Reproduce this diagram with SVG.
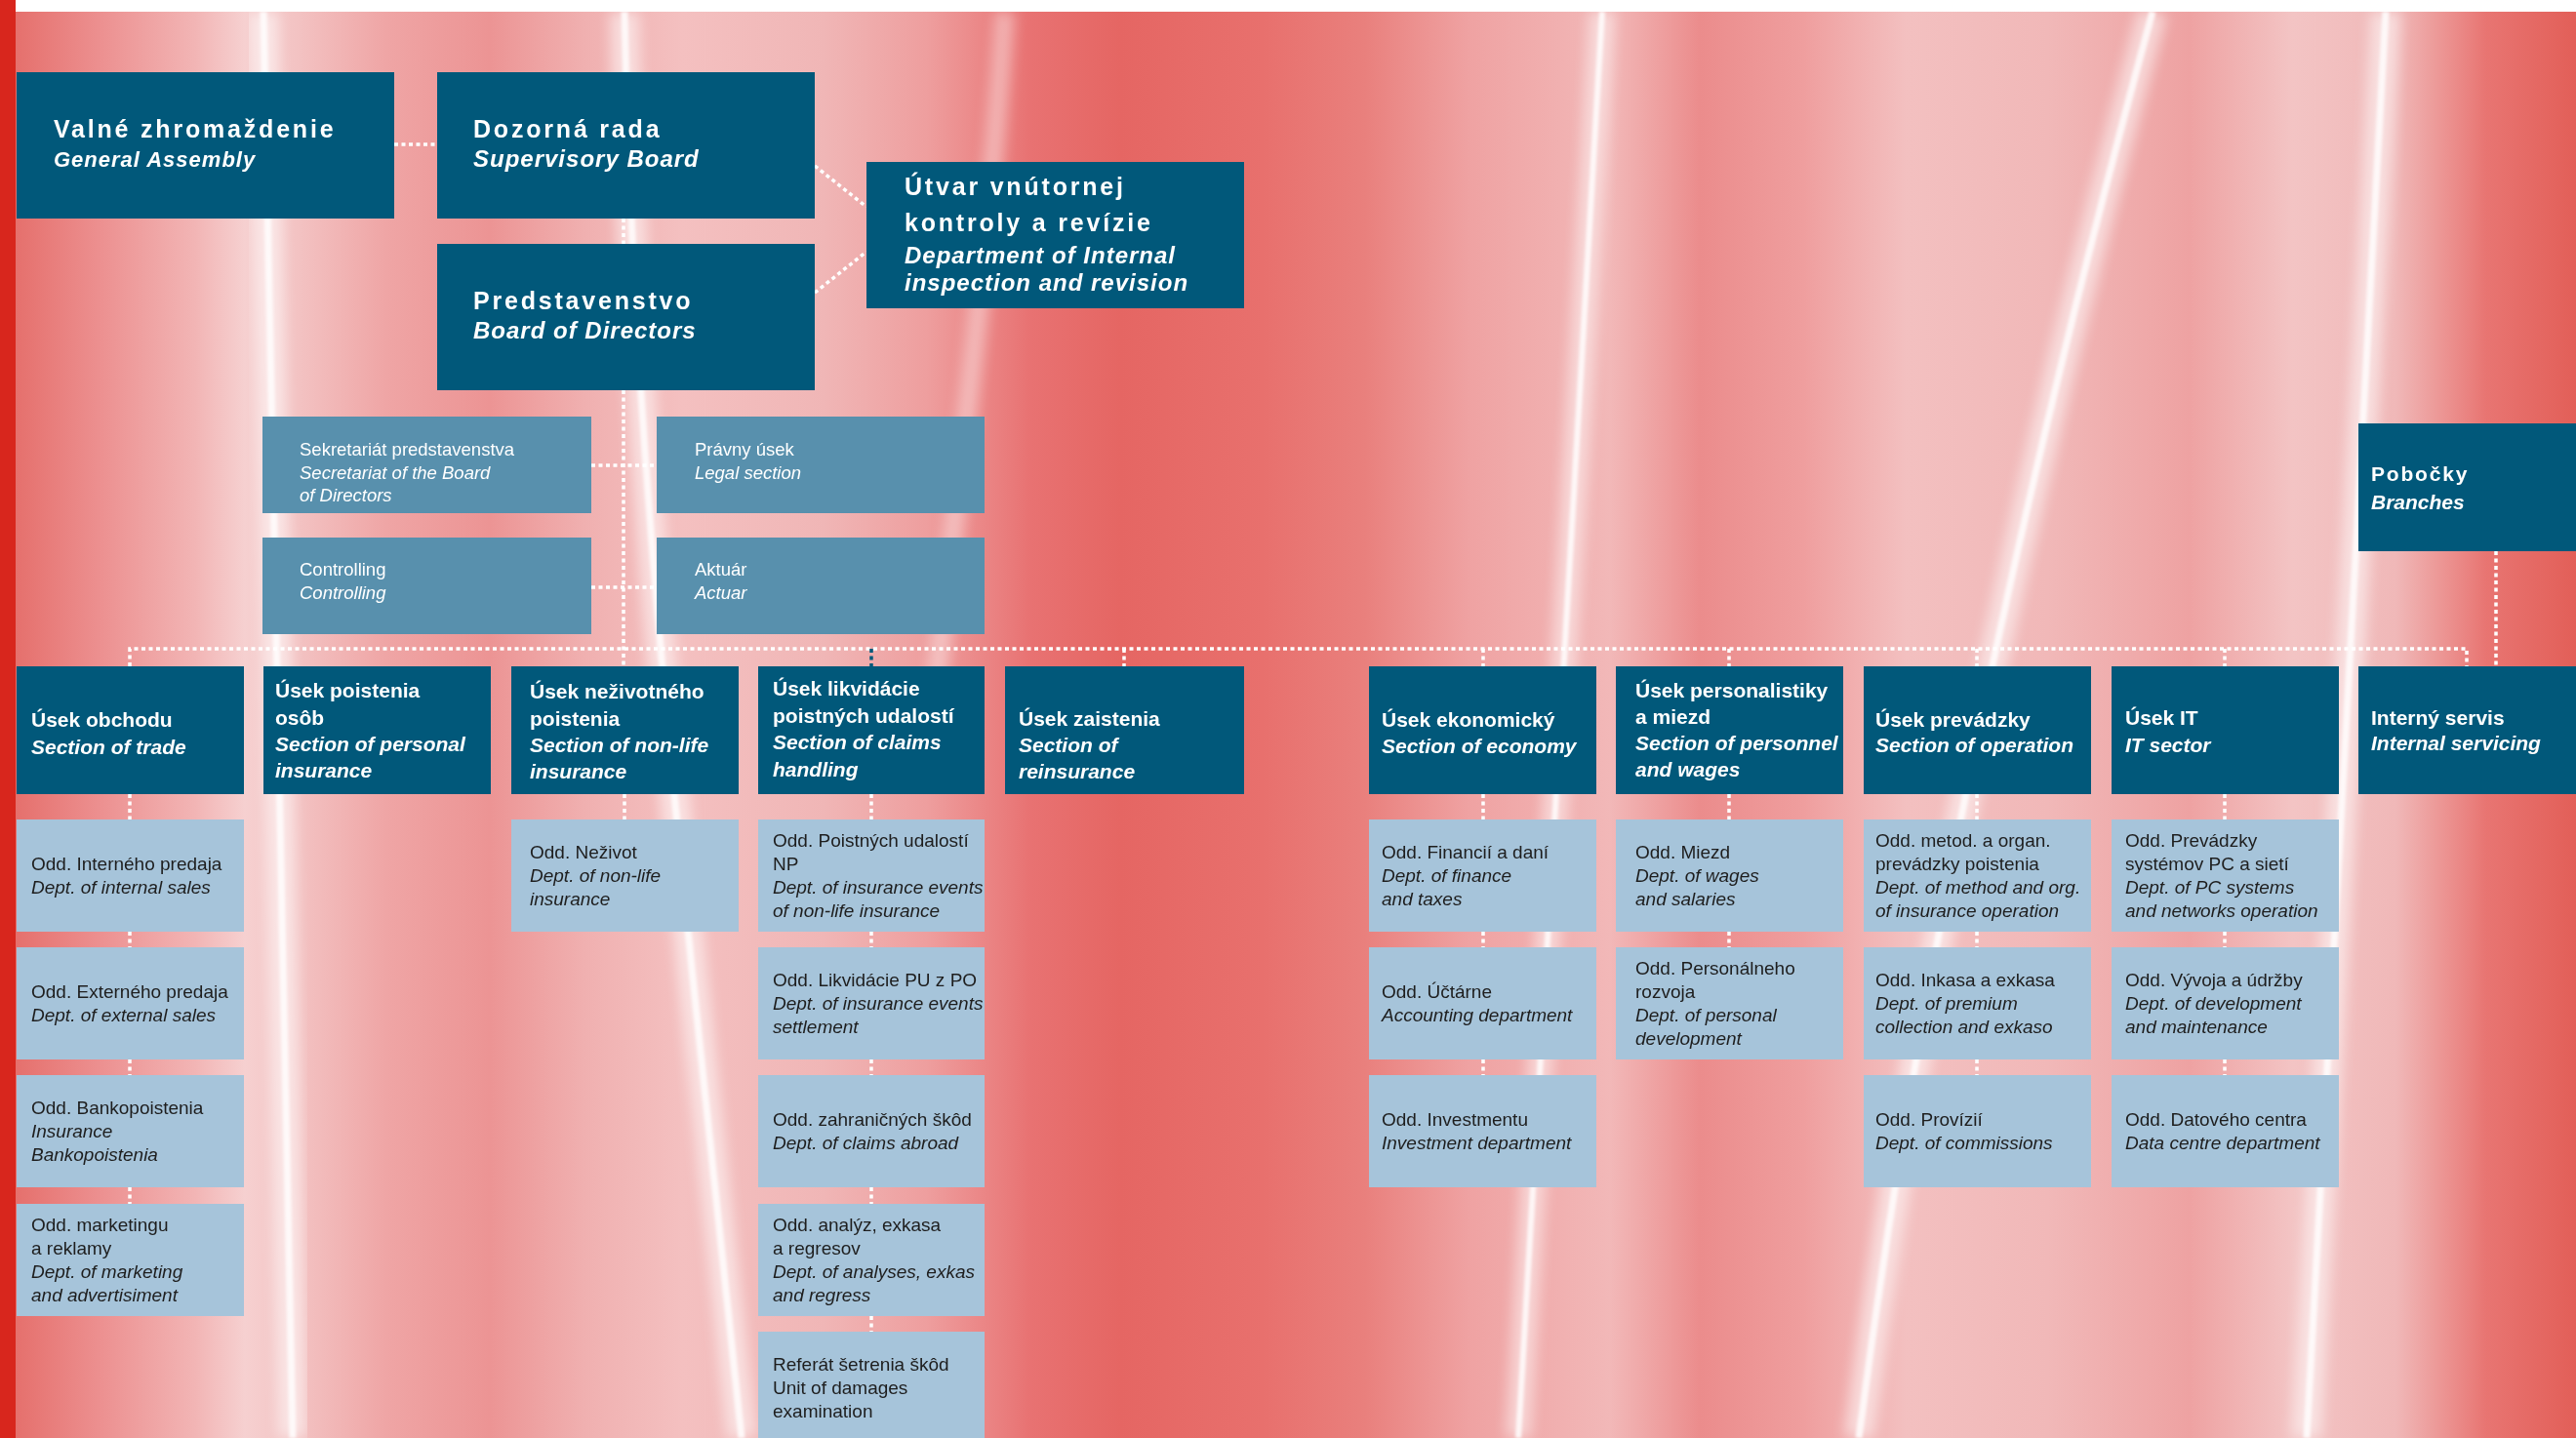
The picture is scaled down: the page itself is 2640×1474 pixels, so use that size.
<svg xmlns="http://www.w3.org/2000/svg" width="2640" height="1474" viewBox="0 0 2640 1474">
<defs>
<linearGradient id="bg" x1="0" y1="0" x2="2640" y2="0" gradientUnits="userSpaceOnUse">
<stop offset="0" stop-color="#e46a66"/>
<stop offset="0.038" stop-color="#ec8f8f"/>
<stop offset="0.076" stop-color="#f2b5b5"/>
<stop offset="0.095" stop-color="#f6d0d0"/>
<stop offset="0.115" stop-color="#f3c3c3"/>
<stop offset="0.15" stop-color="#efa5a5"/>
<stop offset="0.19" stop-color="#ec9494"/>
<stop offset="0.227" stop-color="#f0b0b0"/>
<stop offset="0.265" stop-color="#f4c0c0"/>
<stop offset="0.32" stop-color="#f0b6b6"/>
<stop offset="0.36" stop-color="#ee9e9e"/>
<stop offset="0.40" stop-color="#e87272"/>
<stop offset="0.435" stop-color="#e56663"/>
<stop offset="0.49" stop-color="#e8706d"/>
<stop offset="0.53" stop-color="#e9807d"/>
<stop offset="0.57" stop-color="#efa2a2"/>
<stop offset="0.625" stop-color="#f2b8b8"/>
<stop offset="0.66" stop-color="#eb8c8c"/>
<stop offset="0.70" stop-color="#ef9e9e"/>
<stop offset="0.74" stop-color="#f3c0c0"/>
<stop offset="0.795" stop-color="#f1b8b8"/>
<stop offset="0.85" stop-color="#eea2a2"/>
<stop offset="0.89" stop-color="#f3c4c4"/>
<stop offset="0.93" stop-color="#f0b8b8"/>
<stop offset="0.965" stop-color="#e87572"/>
<stop offset="1" stop-color="#e25f58"/>
</linearGradient>
<filter id="glow" x="-50%" y="-5%" width="200%" height="110%"><feGaussianBlur stdDeviation="7"/></filter>
<filter id="soft" x="-50%" y="-5%" width="200%" height="110%"><feGaussianBlur stdDeviation="1.5"/></filter>
</defs>
<style>
.dark{fill:#01587a}
.mid{fill:#5890ad}
.light{fill:#a6c4da}
text{font-family:"Liberation Sans",Arial,sans-serif}
.hb{font-size:25px;font-weight:bold;fill:#fff;letter-spacing:2.8px}
.hi{font-size:24px;font-weight:bold;font-style:italic;fill:#fff;letter-spacing:1px}
.pb{font-size:21px;font-weight:bold;fill:#fff;letter-spacing:1.8px}
.sb{font-size:21px;font-weight:bold;fill:#fff}
.si{font-size:21px;font-weight:bold;font-style:italic;fill:#fff}
.mr{font-size:18.5px;fill:#fff}
.mi{font-size:18.5px;font-style:italic;fill:#fff}
.lr{font-size:19px;fill:#1e1e1e}
.li{font-size:19px;font-style:italic;fill:#1e1e1e}
.con{fill:none;stroke:#fff;stroke-width:3.5;stroke-dasharray:4 3.5}
.cond{fill:none;stroke:#01587a;stroke-width:3.5;stroke-dasharray:4 3.5}
.streak{fill:none;stroke:#fff}
</style>

<!-- background -->
<rect x="0" y="0" width="2640" height="1474" fill="#fff"/>
<rect x="16" y="12" width="2624" height="1462" fill="url(#bg)"/>
<g opacity="0.9">
<path class="streak" d="M270 12 L300 1474" stroke-width="30" filter="url(#glow)" opacity="0.6"/>
<path class="streak" d="M270 12 L300 1474" stroke-width="7" filter="url(#soft)"/>
<path class="streak" d="M640 12 C650 500 700 900 760 1474" stroke-width="30" filter="url(#glow)" opacity="0.6"/>
<path class="streak" d="M640 12 C650 500 700 900 760 1474" stroke-width="7" filter="url(#soft)"/>
<path class="streak" d="M1642 12 L1556 1474" stroke-width="26" filter="url(#glow)" opacity="0.55"/>
<path class="streak" d="M1642 12 L1556 1474" stroke-width="6" filter="url(#soft)"/>
<path class="streak" d="M2206 12 C2100 400 1980 900 1905 1474" stroke-width="30" filter="url(#glow)" opacity="0.6"/>
<path class="streak" d="M2206 12 C2100 400 1980 900 1905 1474" stroke-width="7" filter="url(#soft)"/>
<path class="streak" d="M2445 12 L2364 1474" stroke-width="30" filter="url(#glow)" opacity="0.6"/>
<path class="streak" d="M2445 12 L2364 1474" stroke-width="7" filter="url(#soft)"/>
<path class="streak" d="M1030 12 C1010 300 980 500 960 700" stroke-width="20" filter="url(#glow)" opacity="0.45"/>
</g>
<rect x="0" y="0" width="16" height="1474" fill="#d8261d"/>

<!-- connectors -->
<g id="connectors">
<path class="con" d="M404 148 H448"/>
<path class="con" d="M639 224 V250"/>
<path class="con" d="M639 400 V683"/>
<path class="con" d="M835 170 L888 212"/>
<path class="con" d="M835 300 L888 258"/>
<path class="con" d="M606 477 H673"/>
<path class="con" d="M606 602 H673"/>
<path class="con" d="M133 683 V665 H2528 V683"/>
<path class="cond" d="M893 665 V683"/>
<path class="con" d="M1152 665 V683"/>
<path class="con" d="M1520 665 V683"/>
<path class="con" d="M1772 665 V683"/>
<path class="con" d="M2026 665 V683"/>
<path class="con" d="M2280 665 V683"/>
<path class="con" d="M2558 565 V683"/>
<path class="con" d="M133 814 V840 M133 955 V971 M133 1086 V1102 M133 1217 V1234"/>
<path class="con" d="M640 814 V840"/>
<path class="con" d="M893 814 V840 M893 955 V971 M893 1086 V1102 M893 1217 V1234 M893 1349 V1365"/>
<path class="con" d="M1520 814 V840 M1520 955 V971 M1520 1086 V1102"/>
<path class="con" d="M1772 814 V840 M1772 955 V971"/>
<path class="con" d="M2026 814 V840 M2026 955 V971 M2026 1086 V1102"/>
<path class="con" d="M2280 814 V840 M2280 955 V971 M2280 1086 V1102"/>
</g>

<!-- top level -->
<g id="valne"><rect class="dark" x="17" y="74" width="387" height="150"/>
<text class="hb" x="55" y="141">Valné zhromaždenie</text>
<text class="hi" x="55" y="171" style="font-size:22px">General Assembly</text></g>
<g id="dozorna"><rect class="dark" x="448" y="74" width="387" height="150"/>
<text class="hb" x="485" y="141">Dozorná rada</text>
<text class="hi" x="485" y="171">Supervisory Board</text></g>
<g id="predstavenstvo"><rect class="dark" x="448" y="250" width="387" height="150"/>
<text class="hb" x="485" y="317">Predstavenstvo</text>
<text class="hi" x="485" y="347">Board of Directors</text></g>
<g id="utvar"><rect class="dark" x="888" y="166" width="387" height="150"/>
<text class="hb" x="927" y="200">Útvar vnútornej</text>
<text class="hb" x="927" y="237">kontroly a revízie</text>
<text class="hi" x="927" y="270">Department of Internal</text>
<text class="hi" x="927" y="298">inspection and revision</text></g>

<!-- staff units -->
<g id="sekretariat"><rect class="mid" x="269" y="427" width="337" height="99"/>
<text class="mr" x="307" y="467">Sekretariát predstavenstva</text>
<text class="mi" x="307" y="491">Secretariat of the Board</text>
<text class="mi" x="307" y="514">of Directors</text></g>
<g id="pravny"><rect class="mid" x="673" y="427" width="336" height="99"/>
<text class="mr" x="712" y="467">Právny úsek</text>
<text class="mi" x="712" y="491">Legal section</text></g>
<g id="controlling"><rect class="mid" x="269" y="551" width="337" height="99"/>
<text class="mr" x="307" y="590">Controlling</text>
<text class="mi" x="307" y="614">Controlling</text></g>
<g id="aktuar"><rect class="mid" x="673" y="551" width="336" height="99"/>
<text class="mr" x="712" y="590">Aktuár</text>
<text class="mi" x="712" y="614">Actuar</text></g>

<g id="pobocky"><rect class="dark" x="2417" y="434" width="223" height="131"/>
<text class="pb" x="2430" y="493">Pobočky</text>
<text class="si" x="2430" y="522">Branches</text></g>

<!-- sections -->
<g id="obchod"><rect class="dark" x="17" y="683" width="233" height="131"/>
<text class="sb" x="32" y="745">Úsek obchodu</text>
<text class="si" x="32" y="773">Section of trade</text></g>
<g id="osob"><rect class="dark" x="270" y="683" width="233" height="131"/>
<text class="sb" x="282" y="715">Úsek poistenia</text>
<text class="sb" x="282" y="743">osôb</text>
<text class="si" x="282" y="770">Section of personal</text>
<text class="si" x="282" y="797">insurance</text></g>
<g id="nezivot"><rect class="dark" x="524" y="683" width="233" height="131"/>
<text class="sb" x="543" y="716">Úsek neživotného</text>
<text class="sb" x="543" y="744">poistenia</text>
<text class="si" x="543" y="771">Section of non-life</text>
<text class="si" x="543" y="798">insurance</text></g>
<g id="likvidacia"><rect class="dark" x="777" y="683" width="232" height="131"/>
<text class="sb" x="792" y="713">Úsek likvidácie</text>
<text class="sb" x="792" y="741">poistných udalostí</text>
<text class="si" x="792" y="768">Section of claims</text>
<text class="si" x="792" y="796">handling</text></g>
<g id="zaistenie"><rect class="dark" x="1030" y="683" width="245" height="131"/>
<text class="sb" x="1044" y="744">Úsek zaistenia</text>
<text class="si" x="1044" y="771">Section of</text>
<text class="si" x="1044" y="798">reinsurance</text></g>
<g id="ekonomika"><rect class="dark" x="1403" y="683" width="233" height="131"/>
<text class="sb" x="1416" y="745">Úsek ekonomický</text>
<text class="si" x="1416" y="772">Section of economy</text></g>
<g id="personal"><rect class="dark" x="1656" y="683" width="233" height="131"/>
<text class="sb" x="1676" y="715">Úsek personalistiky</text>
<text class="sb" x="1676" y="742">a miezd</text>
<text class="si" x="1676" y="769">Section of personnel</text>
<text class="si" x="1676" y="796">and wages</text></g>
<g id="prevadzka"><rect class="dark" x="1910" y="683" width="233" height="131"/>
<text class="sb" x="1922" y="745">Úsek prevádzky</text>
<text class="si" x="1922" y="771">Section of operation</text></g>
<g id="it"><rect class="dark" x="2164" y="683" width="233" height="131"/>
<text class="sb" x="2178" y="743">Úsek IT</text>
<text class="si" x="2178" y="771">IT sector</text></g>
<g id="interny"><rect class="dark" x="2417" y="683" width="223" height="131"/>
<text class="sb" x="2430" y="743">Interný servis</text>
<text class="si" x="2430" y="769">Internal servicing</text></g>

<!-- departments: column obchod -->
<g id="odd-interny"><rect class="light" x="17" y="840" width="233" height="115"/>
<text class="lr" x="32" y="891.5">Odd. Interného predaja</text>
<text class="li" x="32" y="915.5">Dept. of internal sales</text></g>
<g id="odd-externy"><rect class="light" x="17" y="971" width="233" height="115"/>
<text class="lr" x="32" y="1022.5">Odd. Externého predaja</text>
<text class="li" x="32" y="1046.5">Dept. of external sales</text></g>
<g id="odd-banko"><rect class="light" x="17" y="1102" width="233" height="115"/>
<text class="lr" x="32" y="1141.5">Odd. Bankopoistenia</text>
<text class="li" x="32" y="1165.5">Insurance</text>
<text class="li" x="32" y="1189.5">Bankopoistenia</text></g>
<g id="odd-marketing"><rect class="light" x="17" y="1234" width="233" height="115"/>
<text class="lr" x="32" y="1261.5">Odd. marketingu</text>
<text class="lr" x="32" y="1285.5">a reklamy</text>
<text class="li" x="32" y="1309.5">Dept. of marketing</text>
<text class="li" x="32" y="1333.5">and advertisiment</text></g>

<!-- column nezivot -->
<g id="odd-nezivot"><rect class="light" x="524" y="840" width="233" height="115"/>
<text class="lr" x="543" y="879.5">Odd. Neživot</text>
<text class="li" x="543" y="903.5">Dept. of non-life</text>
<text class="li" x="543" y="927.5">insurance</text></g>

<!-- column likvidacia -->
<g id="odd-pu-np"><rect class="light" x="777" y="840" width="232" height="115"/>
<text class="lr" x="792" y="867.5">Odd. Poistných udalostí</text>
<text class="lr" x="792" y="891.5">NP</text>
<text class="li" x="792" y="915.5">Dept. of insurance events</text>
<text class="li" x="792" y="939.5">of non-life insurance</text></g>
<g id="odd-likv-po"><rect class="light" x="777" y="971" width="232" height="115"/>
<text class="lr" x="792" y="1010.5">Odd. Likvidácie PU z PO</text>
<text class="li" x="792" y="1034.5">Dept. of insurance events</text>
<text class="li" x="792" y="1058.5">settlement</text></g>
<g id="odd-zahranicne"><rect class="light" x="777" y="1102" width="232" height="115"/>
<text class="lr" x="792" y="1153.5">Odd. zahraničných škôd</text>
<text class="li" x="792" y="1177.5">Dept. of claims abroad</text></g>
<g id="odd-analyzy"><rect class="light" x="777" y="1234" width="232" height="115"/>
<text class="lr" x="792" y="1261.5">Odd. analýz, exkasa</text>
<text class="lr" x="792" y="1285.5">a regresov</text>
<text class="li" x="792" y="1309.5">Dept. of analyses, exkas</text>
<text class="li" x="792" y="1333.5">and regress</text></g>
<g id="referat"><rect class="light" x="777" y="1365" width="232" height="115"/>
<text class="lr" x="792" y="1404.5">Referát šetrenia škôd</text>
<text class="lr" x="792" y="1428.5">Unit of damages</text>
<text class="lr" x="792" y="1452.5">examination</text></g>

<!-- column ekonomika -->
<g id="odd-financie"><rect class="light" x="1403" y="840" width="233" height="115"/>
<text class="lr" x="1416" y="879.5">Odd. Financií a daní</text>
<text class="li" x="1416" y="903.5">Dept. of finance</text>
<text class="li" x="1416" y="927.5">and taxes</text></g>
<g id="odd-uctaren"><rect class="light" x="1403" y="971" width="233" height="115"/>
<text class="lr" x="1416" y="1022.5">Odd. Účtárne</text>
<text class="li" x="1416" y="1046.5">Accounting department</text></g>
<g id="odd-investment"><rect class="light" x="1403" y="1102" width="233" height="115"/>
<text class="lr" x="1416" y="1153.5">Odd. Investmentu</text>
<text class="li" x="1416" y="1177.5">Investment department</text></g>

<!-- column personal -->
<g id="odd-miezd"><rect class="light" x="1656" y="840" width="233" height="115"/>
<text class="lr" x="1676" y="879.5">Odd. Miezd</text>
<text class="li" x="1676" y="903.5">Dept. of wages</text>
<text class="li" x="1676" y="927.5">and salaries</text></g>
<g id="odd-rozvoj"><rect class="light" x="1656" y="971" width="233" height="115"/>
<text class="lr" x="1676" y="998.5">Odd. Personálneho</text>
<text class="lr" x="1676" y="1022.5">rozvoja</text>
<text class="li" x="1676" y="1046.5">Dept. of personal</text>
<text class="li" x="1676" y="1070.5">development</text></g>

<!-- column prevadzka -->
<g id="odd-metod"><rect class="light" x="1910" y="840" width="233" height="115"/>
<text class="lr" x="1922" y="867.5">Odd. metod. a organ.</text>
<text class="lr" x="1922" y="891.5">prevádzky poistenia</text>
<text class="li" x="1922" y="915.5">Dept. of method and org.</text>
<text class="li" x="1922" y="939.5">of insurance operation</text></g>
<g id="odd-inkaso"><rect class="light" x="1910" y="971" width="233" height="115"/>
<text class="lr" x="1922" y="1010.5">Odd. Inkasa a exkasa</text>
<text class="li" x="1922" y="1034.5">Dept. of premium</text>
<text class="li" x="1922" y="1058.5">collection and exkaso</text></g>
<g id="odd-provizie"><rect class="light" x="1910" y="1102" width="233" height="115"/>
<text class="lr" x="1922" y="1153.5">Odd. Provízií</text>
<text class="li" x="1922" y="1177.5">Dept. of commissions</text></g>

<!-- column IT -->
<g id="odd-pc"><rect class="light" x="2164" y="840" width="233" height="115"/>
<text class="lr" x="2178" y="867.5">Odd. Prevádzky</text>
<text class="lr" x="2178" y="891.5">systémov PC a sietí</text>
<text class="li" x="2178" y="915.5">Dept. of PC systems</text>
<text class="li" x="2178" y="939.5">and networks operation</text></g>
<g id="odd-vyvoj"><rect class="light" x="2164" y="971" width="233" height="115"/>
<text class="lr" x="2178" y="1010.5">Odd. Vývoja a údržby</text>
<text class="li" x="2178" y="1034.5">Dept. of development</text>
<text class="li" x="2178" y="1058.5">and maintenance</text></g>
<g id="odd-datacentrum"><rect class="light" x="2164" y="1102" width="233" height="115"/>
<text class="lr" x="2178" y="1153.5">Odd. Datového centra</text>
<text class="li" x="2178" y="1177.5">Data centre department</text></g>
</svg>
